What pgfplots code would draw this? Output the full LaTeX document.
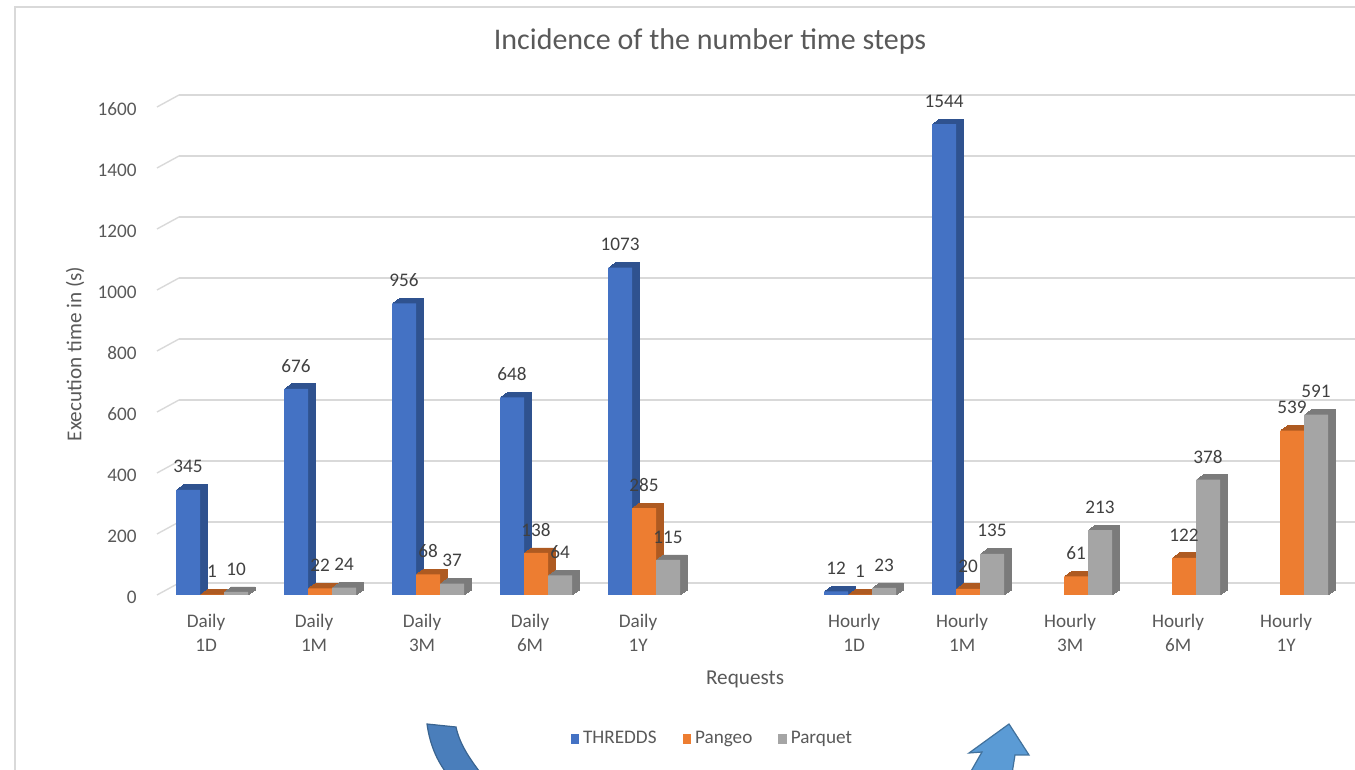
\documentclass[border=0pt]{standalone}
\usepackage{fontspec}
\setmainfont{Carlito}
\usepackage{pgfplots}
\usepackage{pgfplotstable}
\pgfplotsset{compat=1.18}

\definecolor{thr}{HTML}{4472C4}
\definecolor{thrside}{HTML}{2F528F}
\definecolor{pan}{HTML}{ED7D31}
\definecolor{panside}{HTML}{AE5A21}
\definecolor{par}{HTML}{A5A5A5}
\definecolor{parside}{HTML}{7B7B7B}
\definecolor{gridgray}{HTML}{D9D9D9}
\definecolor{txt}{HTML}{595959}
\definecolor{lbl}{HTML}{404040}
\definecolor{arrowA}{HTML}{4A7EBB}
\definecolor{arrowAline}{HTML}{3A6490}
\definecolor{arrowB}{HTML}{5B9BD5}
\definecolor{arrowBline}{HTML}{41719C}

% execution time (s) per request; position 5 separates daily and hourly runs
\pgfplotstableread{
pos thredds pangeo parquet
0   345     1      10
1   676     22     24
2   956     68     37
3   648     138    64
4   1073    285    115
6   12      1      23
7   1544    20     135
8   nan     61     213
9   nan     122    378
10  nan     539    591
}\runs

\newcommand{\lblfont}{\fontsize{9.6}{12}\selectfont}
\newcommand{\ttlfont}{\fontsize{10.6}{13}\selectfont}

\begin{document}
\begin{tikzpicture}
\useasboundingbox (0,0) rectangle (677.5pt,385pt);
% chart frame
\draw[gridgray, line width=0.7pt] (7.5pt,-5pt) |- (690pt,381.5pt);

\begin{axis}[
  scale only axis, width=588.06pt, height=244pt,
  at={(78.5pt,87.5pt)}, anchor=south west,
  xmin=-0.51, xmax=10.38, ymin=0, ymax=1600,
  ybar=0pt, bar width=12pt, clip=false,
  axis line style={draw=none}, major tick length=0pt,
  ytick={0,200,...,1600},
  xtick={0,1,2,3,4,6,7,8,9,10},
  xticklabels={{Daily\\1D},{Daily\\1M},{Daily\\3M},{Daily\\6M},{Daily\\1Y},
               {Hourly\\1D},{Hourly\\1M},{Hourly\\3M},{Hourly\\6M},{Hourly\\1Y}},
  xticklabel style={align=center, font=\lblfont, text=txt, anchor=north, yshift=-6pt, xshift=-3pt},
  yticklabel style={font=\lblfont, text=txt, anchor=east, inner sep=0pt, xshift=-10pt, yshift=-1pt},
  /pgf/number format/assume math mode=true,
  /pgf/number format/1000 sep={},
  scaled y ticks=false,
  ymajorgrids,
  major grid style={draw=gridgray, line width=0.7pt, xshift=11pt, yshift=6pt},
  xlabel={Requests}, ylabel={Execution time in (s)},
  xlabel style={at={(rel axis cs:0.5,0)}, anchor=center, yshift=-42pt, font=\ttlfont, text=txt},
  ylabel style={at={(rel axis cs:0,0.494)}, anchor=center, yshift=41pt, font=\ttlfont, text=txt},
  legend style={at={(rel axis cs:0.473,-0.295)}, anchor=center, draw=none, fill=none,
    legend columns=-1, font=\lblfont, text=txt,
    /tikz/every even column/.append style={column sep=11pt}},
  legend image code/.code={\fill[#1] (0pt,-2.6pt) rectangle (4.2pt,2.6pt);},
  nodes near coords style={font=\lblfont, text=lbl, anchor=center, yshift=11.5pt},
]
% depth lines joining the tick labels to the back wall
\pgfplotsinvokeforeach{0,200,...,1600}{
  \draw[gridgray, line width=0.7pt] (axis cs:-0.51,#1) -- ++(11pt,6pt);
}

% THREDDS: side/top faces, then the front face
\pgfplotsinvokeforeach{7,6,5,4,3,2,1}{
  \addplot[fill=thrside, draw=thrside, line width=0.4pt, bar shift=-12pt,
    xshift=#1*0.5pt, yshift=#1*0.357pt, forget plot]
    table[x=pos,y=thredds]{\runs};
}
\addplot[fill=thr, draw=none, bar shift=-12pt, nodes near coords] table[x=pos,y=thredds]{\runs};
\addlegendentry{THREDDS}

% Pangeo
\pgfplotsinvokeforeach{7,6,5,4,3,2,1}{
  \addplot[fill=panside, draw=panside, line width=0.4pt, bar shift=0pt,
    xshift=#1*0.5pt, yshift=#1*0.357pt, forget plot]
    table[x=pos,y=pangeo]{\runs};
}
\addplot[fill=pan, draw=none, bar shift=0pt, nodes near coords] table[x=pos,y=pangeo]{\runs};
\addlegendentry{Pangeo}

% Parquet
\pgfplotsinvokeforeach{7,6,5,4,3,2,1}{
  \addplot[fill=parside, draw=parside, line width=0.4pt, bar shift=12pt,
    xshift=#1*0.5pt, yshift=#1*0.357pt, forget plot]
    table[x=pos,y=parquet]{\runs};
}
\addplot[fill=par, draw=none, bar shift=12pt, nodes near coords] table[x=pos,y=parquet]{\runs};
\addlegendentry{Parquet}
\end{axis}

\node[font=\fontsize{15}{18}\selectfont, text=txt] at (355pt,364pt) {Incidence of the number time steps};

% curved arrows below the chart
\filldraw[fill=arrowA, draw=arrowAline, line width=0.6pt]
  (213.5pt,23pt) .. controls (215pt,12pt) and (219pt,3pt) .. (226pt,-5pt)
  -- (243pt,-5pt) .. controls (236pt,4pt) and (230pt,12pt) .. (228pt,21.5pt) -- cycle;
\filldraw[fill=arrowB, draw=arrowBline, line width=0.6pt]
  (483pt,-5pt) -- (491pt,9pt) -- (484.5pt,8.5pt) -- (504.5pt,23pt) -- (514.5pt,7.5pt)
  -- (507.5pt,7.5pt) -- (505.5pt,-5pt) -- cycle;
\end{tikzpicture}
\end{document}
